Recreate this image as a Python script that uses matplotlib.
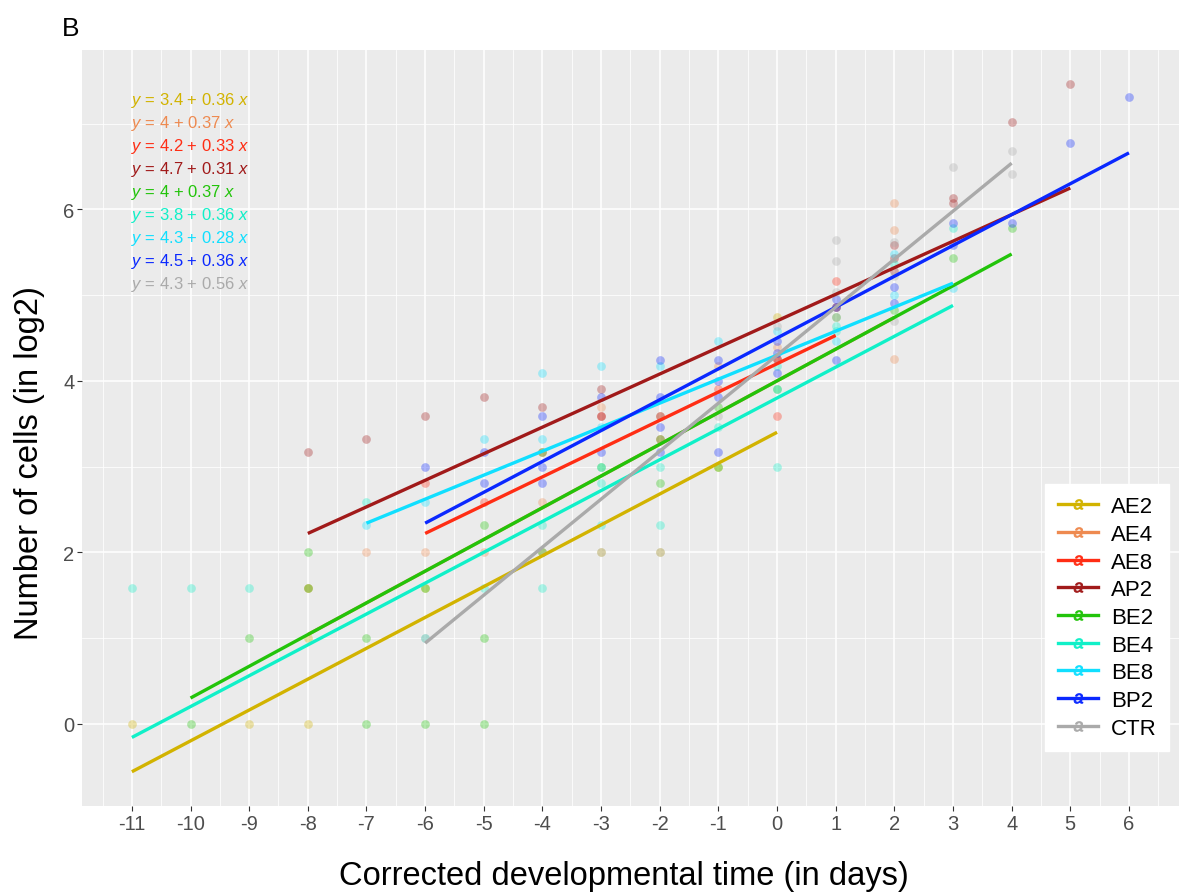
import matplotlib
matplotlib.use("Agg")
import matplotlib.pyplot as plt
from matplotlib.lines import Line2D
import numpy as np

# === DATOS === #
grupos = ["AE2", "AE4", "AE8", "AP2", "BE2", "BE4", "BE8", "BP2", "CTR"]
colores = ["#D2B300", "#EE8A50", "#FF2D14", "#A11A1A", "#22C40A",
           "#10F0C8", "#10DFFF", "#0A28FF", "#AAAAAA"]
intercepto = [3.4, 4, 4.2, 4.7, 4, 3.8, 4.3, 4.5, 4.3]
pendiente = [0.36, 0.37, 0.33, 0.31, 0.37, 0.36, 0.28, 0.36, 0.56]

tiempo_AE2 = [-11, -9, -8, -8, -8, -6, -4, -3, -2, -1, 0]
celulas_AE2 = [0, 0, 0, 1, 1.585, 1.585, 2, 2, 2, 3.0, 4.75]

tiempo_AE4 = [-8, -7, -6, -5, -4, -3, -2, -1, 0, 1, 2, 2, 2]
celulas_AE4 = [1.585, 2.0, 2.0, 2.0, 2.585, 3.7, 3.585, 4.17, 4.39, 4.86, 6.07, 5.76, 4.25]

tiempo_AE8 = [-6, -5, -4, -3, -2, -1, 0, 0, 1]
celulas_AE8 = [2.81, 2.585, 3.17, 3.585, 3.32, 3.91, 3.585, 4.25, 5.17]

tiempo_AP2 = [-8, -7, -6, -5, -4, -3, -3, -2, 0, 1, 2, 2, 2, 3, 3, 4, 5]
celulas_AP2 = [3.17, 3.32, 3.585, 3.81, 3.7, 3.91, 3.585, 3.585, 4.25, 4.86,
               5.58, 5.43, 5.28, 6.13, 6.07, 7.02, 7.46]

tiempo_BE2 = [-10, -9, -8, -8, -7, -7, -6, -6, -5, -5, -5, -4, -4, -3, -2, -2,
              -1, -1, 0, 1, 2, 3, 4]
celulas_BE2 = [0, 1, 1.585, 2, 0, 1, 0, 1.585, 0, 1, 2.32, 3.17, 2.0, 3.0, 3.32, 2.81,
               3.7, 3.0, 3.91, 4.75, 4.83, 5.43, 5.78]

tiempo_BE4 = [-11, -10, -9, -7, -6, -5, -4, -4, -3, -3, -3, -2, -2, -1, 0, 0, 0,
              1, 1, 2, 3]
celulas_BE4 = [1.585, 1.585, 1.585, 2.585, 1.0, 1.585, 1.585, 2.32, 2.32, 3.0, 2.81,
               2.32, 3.0, 3.46, 3.0, 4.17, 3.91, 4.64, 4.58, 5.36, 5.78]

tiempo_BE8 = [-7, -6, -5, -4, -4, -3, -3, -2, -1, 0, 1, 2, 2, 3]
celulas_BE8 = [2.32, 2.585, 3.32, 4.09, 3.32, 4.17, 3.46, 4.17, 4.46, 4.58, 4.46,
               5.48, 5.0, 5.08]

tiempo_BP2 = [-6, -5, -5, -4, -4, -4, -3, -3, -2, -2, -2, -2, -1, -1, -1, -1,
              0, 0, 0, 1, 1, 1, 2, 2, 3, 3, 4, 5, 6]
celulas_BP2 = [3.0, 3.17, 2.81, 3.585, 3.0, 2.81, 3.81, 3.17, 4.24, 3.81, 3.46, 3.17,
               4.24, 4.0, 3.81, 3.17, 4.46, 4.32, 4.09, 4.95, 4.86, 4.24, 5.09, 4.91,
               5.84, 5.585, 5.84, 6.78, 7.31]

tiempo_CTR = [-6, -4, -3, -2, -1, 0, 1, 1, 1, 1, 2, 2, 2, 3, 4, 4]
celulas_CTR = [1.0, 2.0, 2.0, 2.0, 3.585, 4.64, 5.64, 5.40, 4.75, 5.04,
               5.62, 5.22, 4.70, 6.50, 6.68, 6.41]

tiempos = [tiempo_AE2, tiempo_AE4, tiempo_AE8, tiempo_AP2, tiempo_BE2,
           tiempo_BE4, tiempo_BE8, tiempo_BP2, tiempo_CTR]
celulas = [celulas_AE2, celulas_AE4, celulas_AE8, celulas_AP2, celulas_BE2,
           celulas_BE4, celulas_BE8, celulas_BP2, celulas_CTR]

x_ticks = list(range(-11, 7))
y_ticks = [0, 2, 4, 6]

# === ESTILO === #
plt.rcParams["font.family"] = ["Liberation Sans", "DejaVu Sans"]
plt.rcParams["mathtext.fontset"] = "custom"
plt.rcParams["mathtext.rm"] = "Liberation Sans"
plt.rcParams["mathtext.it"] = "Liberation Sans:italic"

fig = plt.figure(figsize=(11.8, 8.95), dpi=100)
ax = fig.add_axes([0.0695, 0.0983, 0.9295, 0.8447])
ax.set_facecolor("#EBEBEB")

# puntos
for t, c, col in zip(tiempos, celulas, colores):
    ax.plot(t, c, "o", color=col, alpha=0.33, markersize=6.3,
            markeredgewidth=0, zorder=2)

# rectas de regresion
handles = []
for g, t, a, b, col in zip(grupos, tiempos, intercepto, pendiente, colores):
    xs = np.array([min(t), max(t)])
    ax.plot(xs, a + b * xs, color=col, lw=2.4, zorder=3,
            solid_capstyle="butt")
    handles.append(Line2D([0], [0], color=col, lw=2.4, marker="$a$",
                          markersize=7, markeredgewidth=0.6, label=g))

# ecuaciones
for i, (a, b, col) in enumerate(zip(intercepto, pendiente, colores)):
    ax.text(0.0446, 0.935 - i * 0.0304, rf"$y$ = {a:g} + {b:g} $x$",
            transform=ax.transAxes, color=col, fontsize=12,
            ha="left", va="center", zorder=4)

ax.set_xlim(-11.85, 6.85)
ax.set_ylim(-0.96, 7.86)
ax.set_xticks(x_ticks)
ax.set_xticklabels([str(v) for v in x_ticks])
ax.set_yticks(y_ticks)
ax.set_xticks(np.arange(-11.5, 7, 1), minor=True)
ax.set_yticks([1, 3, 5, 7], minor=True)
ax.grid(True, which="major", color="white", lw=1.1)
ax.grid(True, which="minor", color="white", lw=0.55)
ax.set_axisbelow(True)
for s in ax.spines.values():
    s.set_visible(False)
ax.tick_params(which="major", length=3.5, width=0.8, color="#333333",
               labelsize=14.5, labelcolor="#4D4D4D", pad=2)
ax.tick_params(which="minor", length=0)

ax.set_xlabel("Corrected developmental time (in days)", fontsize=23.5)
ax.set_ylabel("Number of cells (in log2)", fontsize=23.5)
ax.xaxis.set_label_coords(0.494, -0.072)
ax.yaxis.set_label_coords(-0.034, 0.455)

leg = ax.legend(handles=handles, loc="lower right",
                bbox_to_anchor=(0.991, 0.073), borderaxespad=0,
                fontsize=16, frameon=True, fancybox=False, handlelength=1.8,
                labelspacing=0.3, handletextpad=0.6, borderpad=0.55)
leg.get_frame().set_facecolor("white")
leg.get_frame().set_edgecolor("white")
leg.get_frame().set_alpha(1)

fig.text(0.0525, 0.968, "B", fontsize=19, ha="left", va="center")

fig.savefig("out.png", dpi=100)
plt.close(fig)
